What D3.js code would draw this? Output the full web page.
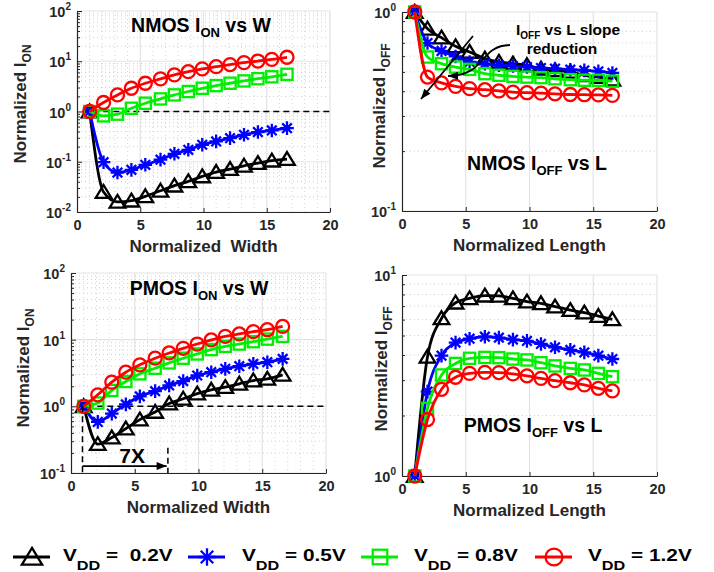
<!DOCTYPE html>
<html>
<head>
<meta charset="utf-8">
<script src="https://cdn.jsdelivr.net/npm/d3@7"></script>
<style>
  body { margin: 0; background: #fff; }
  svg { display: block; }
  text { font-family: "Liberation Sans", Arial, sans-serif; font-weight: bold; }
</style>
</head>
<body>
<svg id="chart" width="714" height="572"></svg>
<script>
// ---- data ----
const xWidth  = [1, 2.1, 3.2, 4.3, 5.4, 6.6, 7.7, 8.8, 9.9, 11.0, 12.1, 13.2, 14.3, 15.4, 16.6];
const xLength = [1, 2.0, 3.1, 4.2, 5.3, 6.5, 7.6, 8.7, 9.8, 10.9, 12.0, 13.2, 14.3, 15.4, 16.5];

const vddLabels = ["0.2V", "0.5V", "0.8V", "1.2V"];

// NMOS Ion vs W
const nIon02 = [1, 0.025, 0.0159, 0.0168, 0.0205, 0.0265, 0.0334, 0.0407, 0.051, 0.0624, 0.0715, 0.0832, 0.094, 0.105, 0.113];
const nIon05 = [1, 0.098, 0.061, 0.069, 0.087, 0.11, 0.144, 0.173, 0.218, 0.254, 0.295, 0.344, 0.39, 0.42, 0.466];
const nIon08 = [1, 0.82, 0.885, 1.16, 1.46, 1.78, 2.14, 2.5, 2.9, 3.28, 3.65, 4.06, 4.5, 4.9, 5.5];
const nIon12 = [1, 1.51, 2.14, 2.9, 3.65, 4.46, 5.35, 6.2, 7.05, 7.8, 8.6, 9.4, 10.1, 10.9, 12.0];

// NMOS Ioff vs L
const nIoff02 = [1, 0.824, 0.743, 0.672, 0.63, 0.583, 0.561, 0.55, 0.54, 0.519, 0.509, 0.5, 0.481, 0.471, 0.457];
const nIoff05 = [1, 0.698, 0.637, 0.598, 0.561, 0.55, 0.54, 0.535, 0.529, 0.523, 0.519, 0.513, 0.509, 0.503, 0.494];
const nIoff08 = [1, 0.594, 0.55, 0.529, 0.515, 0.49, 0.481, 0.475, 0.471, 0.468, 0.462, 0.457, 0.454, 0.454, 0.449];
const nIoff12 = [1, 0.471, 0.44, 0.423, 0.412, 0.407, 0.401, 0.396, 0.393, 0.391, 0.388, 0.385, 0.384, 0.383, 0.381];

// PMOS Ion vs W
const pIon02 = [1, 0.271, 0.34, 0.464, 0.632, 0.823, 1.1, 1.3, 1.55, 1.77, 1.94, 2.18, 2.44, 2.59, 2.97];
const pIon05 = [1, 0.584, 0.778, 1.07, 1.41, 1.69, 2.06, 2.39, 2.9, 3.25, 3.65, 4.0, 4.33, 4.59, 5.15];
const pIon08 = [1, 1.12, 1.73, 2.36, 3.07, 3.73, 4.48, 5.27, 6.11, 7.1, 7.94, 8.6, 9.33, 10.2, 11.2];
const pIon12 = [1, 1.49, 2.31, 3.25, 4.19, 5.27, 6.32, 7.42, 8.6, 9.9, 11.2, 12.2, 13.2, 14.1, 15.8];

// PMOS Ioff vs L
const pIoff02 = [1, 3.92, 6.09, 7.28, 7.65, 7.89, 7.87, 7.65, 7.37, 7.23, 6.96, 6.69, 6.5, 6.25, 6.02];
const pIoff05 = [1, 2.63, 3.97, 4.61, 4.82, 4.93, 4.88, 4.77, 4.7, 4.54, 4.37, 4.24, 4.12, 3.97, 3.82];
const pIoff08 = [1, 2.17, 3.18, 3.63, 3.85, 3.89, 3.88, 3.82, 3.78, 3.66, 3.53, 3.43, 3.37, 3.24, 3.12];
const pIoff12 = [1, 1.91, 2.7, 3.1, 3.24, 3.28, 3.27, 3.22, 3.15, 3.06, 2.98, 2.91, 2.84, 2.73, 2.65];

const xTicks = [0, 5, 10, 15, 20];

// ---- styling ----
const colors  = ["#000000", "#0000ff", "#00ee00", "#ff0000"];
const markers = ["triangle", "star", "square", "circle"];
const axisColor = "#262626";

const svg = d3.select("#chart");

const defs = svg.append("defs");
defs.append("marker")
  .attr("id", "arrowhead")
  .attr("markerUnits", "userSpaceOnUse")
  .attr("viewBox", "0 -5 10 10")
  .attr("refX", 10).attr("refY", 0)
  .attr("markerWidth", 12).attr("markerHeight", 10)
  .attr("orient", "auto")
  .append("path").attr("d", "M0,-4 L10,0 L0,4 Z").attr("fill", "#000");

// draw one marker shape into a group
function drawMarker(g, type, color, k) {
  k = k || 1;
  const sw = 2.3;
  if (type === "circle") {
    g.append("circle").attr("r", 6.5 * k).attr("fill", "none").attr("stroke", color).attr("stroke-width", sw);
  } else if (type === "square") {
    const s = 5.6 * k;
    g.append("rect").attr("x", -s).attr("y", -s).attr("width", 2 * s).attr("height", 2 * s)
      .attr("fill", "none").attr("stroke", color).attr("stroke-width", sw);
  } else if (type === "triangle") {
    g.append("path").attr("d", `M0,${-7 * k} L${7.8 * k},${5.8 * k} L${-7.8 * k},${5.8 * k} Z`)
      .attr("fill", "none").attr("stroke", color).attr("stroke-width", sw).attr("stroke-linejoin", "miter");
  } else if (type === "star") {
    const a = 6.8 * k, b = 4.8 * k;
    g.append("path").attr("d", `M${-a},0 H${a} M0,${-a} V${a} M${-b},${-b} L${b},${b} M${-b},${b} L${b},${-b}`)
      .attr("stroke", color).attr("stroke-width", sw);
  }
}

// log tick label 10^n
function logLabel(sel, exp) {
  sel.append("tspan").text("10");
  sel.append("tspan").attr("dy", -7).attr("font-size", 10).text(exp);
}

function drawPanel(cfg) {
  const g = svg.append("g");
  const x = d3.scaleLinear().domain([0, 20]).range([cfg.left, cfg.right]);
  const y = d3.scaleLog().domain(cfg.yDomain).range([cfg.bottom, cfg.top]);

  const allY = y.ticks();
  const majorY = allY.filter(v => Math.abs(Math.log10(v) - Math.round(Math.log10(v))) < 1e-9);
  const minorY = allY.filter(v => !majorY.includes(v));

  // minor grid
  g.append("g").selectAll("line").data(minorY).join("line")
    .attr("x1", cfg.left).attr("x2", cfg.right)
    .attr("y1", d => y(d)).attr("y2", d => y(d))
    .attr("stroke", "#cfcfcf").attr("stroke-width", 1).attr("stroke-dasharray", "1,3");
  if (cfg.minorX) {
    g.append("g").selectAll("line").data(d3.range(1, 20).filter(v => v % 5 !== 0)).join("line")
      .attr("x1", d => x(d)).attr("x2", d => x(d))
      .attr("y1", cfg.top).attr("y2", cfg.bottom)
      .attr("stroke", "#d6d6d6").attr("stroke-width", 1).attr("stroke-dasharray", "1,3");
  }
  // major grid
  g.append("g").selectAll("line").data(majorY).join("line")
    .attr("x1", cfg.left).attr("x2", cfg.right)
    .attr("y1", d => y(d)).attr("y2", d => y(d))
    .attr("stroke", "#e3e3e3").attr("stroke-width", 1.2);
  g.append("g").selectAll("line").data(xTicks.slice(1)).join("line")
    .attr("x1", d => x(d)).attr("x2", d => x(d))
    .attr("y1", cfg.top).attr("y2", cfg.bottom)
    .attr("stroke", "#e3e3e3").attr("stroke-width", 1.2);

  // axes
  const xAxis = g.append("g").attr("transform", `translate(0,${cfg.bottom})`)
    .call(d3.axisBottom(x).tickValues(xTicks).tickSize(-4).tickSizeOuter(0).tickPadding(8));
  xAxis.selectAll("text").attr("font-size", 14.5).attr("fill", axisColor)
    .attr("font-family", "Liberation Sans, Arial, sans-serif").attr("font-weight", "bold");
  const yAxis = g.append("g").attr("transform", `translate(${cfg.left},0)`)
    .call(d3.axisLeft(y).tickValues(allY).tickSize(-3).tickSizeOuter(0).tickFormat(""));
  [xAxis, yAxis].forEach(a => {
    a.select(".domain").attr("stroke", axisColor).attr("stroke-width", 1.2);
    a.selectAll(".tick line").attr("stroke", axisColor);
  });
  yAxis.selectAll(".tick line").filter(d => majorY.includes(d)).attr("x2", 5);

  // y tick labels with exponents
  majorY.forEach(v => {
    const t = g.append("text").attr("x", cfg.left - 6).attr("y", y(v) + 6)
      .attr("text-anchor", "end").attr("font-size", 14.5).attr("fill", axisColor);
    logLabel(t, Math.round(Math.log10(v)));
  });

  // reference dashed line at 1
  if (cfg.unityLine) {
    g.append("line")
      .attr("x1", x(0.5)).attr("x2", x(20)).attr("y1", y(1)).attr("y2", y(1))
      .attr("stroke", "#000").attr("stroke-width", 1.5).attr("stroke-dasharray", "6,4");
  }

  // series
  const line = d3.line().x(d => x(d[0])).y(d => y(d[1])).curve(d3.curveMonotoneX);
  cfg.series.forEach((vals, i) => {
    const pts = vals.map((v, j) => [cfg.xs[j], v]);
    g.append("path").datum(pts).attr("d", line)
      .attr("fill", "none").attr("stroke", colors[i]).attr("stroke-width", 2.8);
    g.append("g").selectAll("g").data(pts).join("g")
      .attr("transform", d => `translate(${x(d[0])},${y(d[1])})`)
      .each(function () { drawMarker(d3.select(this), markers[i], colors[i]); });
  });

  // axis labels
  g.append("text").attr("x", (cfg.left + cfg.right) / 2).attr("y", cfg.bottom + 40)
    .attr("text-anchor", "middle").attr("font-size", 17).attr("fill", axisColor)
    .style("white-space", "pre").text(cfg.xLabel);
  const yl = g.append("text")
    .attr("transform", `translate(${cfg.yLabelX},${cfg.yLabelY}) rotate(-90)`)
    .attr("text-anchor", "middle").attr("font-size", 17).attr("fill", axisColor);
  yl.append("tspan").text("Normalized I");
  yl.append("tspan").attr("dy", 5).attr("font-size", 12).text(cfg.ySub);

  // title
  const tt = g.append("text").attr("x", cfg.titleX).attr("y", cfg.titleY)
    .attr("text-anchor", "middle").attr("font-size", 19.5).attr("fill", "#000")
    .attr("font-family", "Lato, 'Open Sans', sans-serif").style("font-weight", "bold");
  tt.append("tspan").text(cfg.title[0]);
  tt.append("tspan").attr("dy", 5).attr("font-size", 13).text(cfg.title[1]);
  tt.append("tspan").attr("dy", -5).text(cfg.title[2]);

  return { g, x, y };
}

// ---- panels ----
drawPanel({
  left: 77, right: 330, top: 11, bottom: 212, yDomain: [1e-2, 1e2],
  xs: xWidth, series: [nIon02, nIon05, nIon08, nIon12], unityLine: true, minorX: true,
  xLabel: "Normalized  Width", ySub: "ON", yLabelX: 26, yLabelY: 104,
  title: ["NMOS I", "ON", " vs W"], titleX: 201, titleY: 32
});

const p2 = drawPanel({
  left: 402, right: 657, top: 12, bottom: 211, yDomain: [0.1, 1],
  xs: xLength, series: [nIoff02, nIoff05, nIoff08, nIoff12], unityLine: false, minorX: false,
  xLabel: "Normalized Length", ySub: "OFF", yLabelX: 385, yLabelY: 106,
  title: ["NMOS I", "OFF", " vs L"], titleX: 537, titleY: 170
});

const p3 = drawPanel({
  left: 71, right: 326, top: 273, bottom: 473, yDomain: [0.1, 100],
  xs: xWidth, series: [pIon02, pIon05, pIon08, pIon12], unityLine: true, minorX: true,
  xLabel: "Normalized Width", ySub: "ON", yLabelX: 29, yLabelY: 368,
  title: ["PMOS I", "ON", " vs W"], titleX: 199, titleY: 295
});

drawPanel({
  left: 402, right: 657, top: 275, bottom: 476, yDomain: [1, 10],
  xs: xLength, series: [pIoff02, pIoff05, pIoff08, pIoff12], unityLine: false, minorX: false,
  xLabel: "Normalized Length", ySub: "OFF", yLabelX: 387, yLabelY: 369,
  title: ["PMOS I", "OFF", " vs L"], titleX: 533, titleY: 432
});

// ---- annotations: NMOS Ioff ----
const ann = p2.g.append("g");
ann.append("line").attr("x1", 473).attr("y1", 36).attr("x2", 421).attr("y2", 99)
  .attr("stroke", "#000").attr("stroke-width", 1.8).attr("marker-end", "url(#arrowhead)");
ann.append("path").attr("d", "M510,45 C478,46 488,75 448,76")
  .attr("fill", "none").attr("stroke", "#000").attr("stroke-width", 1.8).attr("marker-end", "url(#arrowhead)");
const at = ann.append("text").attr("x", 516).attr("y", 35).attr("font-size", 15.5)
  .attr("font-family", "Lato, 'Open Sans', sans-serif").style("font-weight", "bold");
at.append("tspan").text("I");
at.append("tspan").attr("dy", 4).attr("font-size", 10).text("OFF");
at.append("tspan").attr("dy", -4).text(" vs L slope");
ann.append("text").attr("x", 562).attr("y", 54).attr("text-anchor", "middle").attr("font-size", 15.5)
  .attr("font-family", "Lato, 'Open Sans', sans-serif").style("font-weight", "bold").text("reduction");

// ---- annotations: PMOS Ion 7X ----
const a3 = p3.g.append("g");
const x3 = p3.x, y3 = p3.y;
a3.append("line").attr("x1", x3(0.9)).attr("x2", x3(0.9)).attr("y1", y3(1)).attr("y2", y3(0.1))
  .attr("stroke", "#000").attr("stroke-width", 1.5).attr("stroke-dasharray", "6,4");
a3.append("line").attr("x1", x3(7.6)).attr("x2", x3(7.6)).attr("y1", y3(0.24)).attr("y2", y3(0.1))
  .attr("stroke", "#000").attr("stroke-width", 1.5).attr("stroke-dasharray", "6,4");
a3.append("line").attr("x1", x3(0.9)).attr("x2", x3(7.5)).attr("y1", y3(0.127)).attr("y2", y3(0.127))
  .attr("stroke", "#000").attr("stroke-width", 1.8).attr("marker-end", "url(#arrowhead)");
a3.append("text").attr("x", x3(4.8)).attr("y", y3(0.127) - 3).attr("text-anchor", "middle")
  .attr("font-size", 21).attr("fill", "#000").text("7X");

// ---- legend ----
const legendCx = [32, 207, 380, 554];
const legendTx = [63, 242, 414, 588];
const legendY = 557;
const legend = svg.append("g");
vddLabels.forEach((lab, i) => {
  legend.append("line").attr("x1", legendCx[i] - 19).attr("x2", legendCx[i] + 18)
    .attr("y1", legendY).attr("y2", legendY).attr("stroke", colors[i]).attr("stroke-width", 3);
  drawMarker(legend.append("g").attr("transform", `translate(${legendCx[i]},${legendY})`), markers[i], colors[i], 1.3);
  const tg = legend.append("g").attr("transform", `translate(${legendTx[i]},561) scale(1.3,1)`);
  const t = tg.append("text").attr("font-size", 16).attr("fill", "#000").style("white-space", "pre");
  t.append("tspan").text("V");
  t.append("tspan").attr("dy", 9).attr("font-size", 12.5).text("DD");
  t.append("tspan").attr("dy", -9).text(i === 0 ? " =  " + lab : " = " + lab);
});
</script>
</body>
</html>
